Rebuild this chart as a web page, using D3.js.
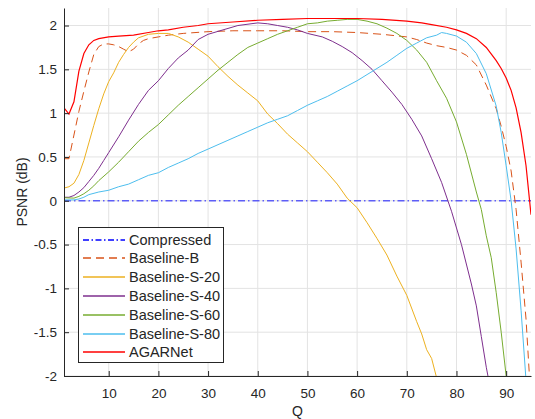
<!DOCTYPE html>
<html>
<head>
<meta charset="utf-8">
<script src="https://cdn.jsdelivr.net/npm/d3@7"></script>
<style>
  body { margin: 0; background: #fff; }
  text { font-family: "Liberation Sans", Arial, sans-serif; fill: #262626; }
</style>
</head>
<body>
<div id="chart"></div>
<script>
// data: [Q, PSNR gain (dB)]
const compressed = [[1, 0], [95, 0]];

const baselineB = [[1, 0.48], [2, 0.48], [3, 0.75], [4, 1.02], [5, 1.25], [6, 1.47], [7, 1.67], [8, 1.76],
  [9, 1.79], [10, 1.79], [11, 1.78], [12, 1.76], [13, 1.73], [14, 1.70], [15, 1.73], [16, 1.79], [17, 1.83],
  [18, 1.85], [20, 1.87], [22, 1.89], [25, 1.91], [30, 1.93], [35, 1.94], [40, 1.94], [45, 1.94], [50, 1.93],
  [55, 1.93], [60, 1.92], [65, 1.90], [70, 1.87], [72, 1.84], [74, 1.80], [76, 1.77], [78, 1.75], [80, 1.72],
  [82, 1.66], [84, 1.55], [86, 1.32], [88, 1.05], [89, 0.85], [90, 0.62], [91, 0.34], [92, -0.10], [93, -0.70],
  [94, -1.35], [95, -2.3]];

const baselineS20 = [[1, 0.145], [2, 0.16], [3, 0.20], [4, 0.30], [5, 0.46], [6, 0.66], [7, 0.86], [8, 1.05],
  [9, 1.22], [10, 1.36], [11, 1.46], [12, 1.58], [13, 1.67], [14, 1.75], [15, 1.81], [16, 1.86], [18, 1.90],
  [20, 1.91], [22, 1.91], [24, 1.87], [26, 1.81], [28, 1.73], [30, 1.65], [32, 1.53], [34, 1.42], [36, 1.32],
  [38, 1.23], [40, 1.14], [42, 0.99], [44, 0.88], [46, 0.76], [48, 0.66], [50, 0.56], [52, 0.44], [54, 0.32],
  [56, 0.19], [58, 0.03], [60, -0.08], [62, -0.25], [64, -0.43], [66, -0.62], [68, -0.86], [70, -1.08],
  [72, -1.38], [73, -1.52], [74, -1.70], [75, -1.80], [76, -2.02], [77, -2.2]];

const baselineS40 = [[1, 0.04], [2, 0.04], [3, 0.06], [4, 0.10], [5, 0.15], [6, 0.22], [7, 0.29], [8, 0.37],
  [9, 0.46], [10, 0.55], [12, 0.73], [14, 0.92], [16, 1.10], [18, 1.26], [20, 1.37], [22, 1.51], [24, 1.63],
  [26, 1.72], [28, 1.84], [30, 1.90], [33, 1.95], [36, 2.00], [40, 2.03], [42, 2.02], [44, 2.00], [46, 1.98],
  [48, 1.95], [50, 1.91], [53, 1.87], [55, 1.82], [57, 1.76], [59, 1.69], [61, 1.60], [63, 1.50], [65, 1.37],
  [67, 1.24], [69, 1.10], [71, 0.93], [73, 0.74], [75, 0.48], [77, 0.21], [79, -0.12], [81, -0.50], [83, -0.95],
  [84, -1.20], [85, -1.55], [86, -1.90], [87, -2.2]];

const baselineS60 = [[1, 0.035], [3, 0.03], [4, 0.05], [5, 0.08], [6, 0.12], [7, 0.17], [8, 0.23], [10, 0.33],
  [12, 0.44], [14, 0.56], [16, 0.68], [18, 0.78], [20, 0.87], [22, 0.98], [24, 1.09], [26, 1.19], [28, 1.29],
  [30, 1.39], [32, 1.49], [34, 1.58], [36, 1.67], [38, 1.75], [40, 1.80], [42, 1.85], [44, 1.90], [46, 1.94],
  [48, 1.98], [50, 2.02], [52, 2.03], [54, 2.05], [56, 2.06], [58, 2.07], [60, 2.07], [62, 2.05], [64, 2.02],
  [66, 1.97], [68, 1.91], [70, 1.83], [72, 1.72], [74, 1.58], [76, 1.37], [78, 1.17], [80, 0.90], [82, 0.53],
  [84, 0.10], [85, -0.10], [86, -0.40], [87, -0.65], [88, -1.05], [89, -1.50], [90, -2.0], [91, -2.5]];

const baselineS80 = [[1, 0.01], [3, 0.01], [4, 0.02], [5, 0.04], [6, 0.07], [8, 0.10], [10, 0.12], [12, 0.16],
  [14, 0.19], [16, 0.24], [18, 0.29], [20, 0.32], [22, 0.38], [24, 0.43], [26, 0.48], [28, 0.54], [30, 0.59],
  [32, 0.64], [34, 0.69], [36, 0.74], [38, 0.79], [40, 0.84], [42, 0.89], [44, 0.93], [46, 0.97], [48, 1.03],
  [50, 1.09], [52, 1.14], [54, 1.19], [56, 1.25], [58, 1.31], [60, 1.37], [62, 1.44], [64, 1.51], [66, 1.58],
  [68, 1.66], [70, 1.74], [72, 1.80], [74, 1.86], [76, 1.89], [77, 1.92], [78, 1.91], [80, 1.88], [82, 1.81],
  [84, 1.68], [86, 1.45], [88, 1.08], [89, 0.78], [90, 0.40], [91, 0.0], [92, -0.55], [93, -1.25], [94, -2.05],
  [95, -2.8]];

const agarnet = [[1, 1.06], [2, 0.99], [3, 1.13], [4, 1.48], [5, 1.68], [6, 1.78], [7, 1.83], [8, 1.85],
  [10, 1.87], [12, 1.88], [15, 1.89], [18, 1.92], [20, 1.94], [22, 1.95], [25, 1.98], [28, 2.00], [30, 2.02],
  [35, 2.04], [40, 2.06], [45, 2.07], [50, 2.08], [55, 2.08], [60, 2.08], [65, 2.07], [70, 2.05], [73, 2.03],
  [75, 2.01], [78, 1.98], [80, 1.95], [82, 1.91], [84, 1.85], [86, 1.75], [88, 1.60], [89, 1.51], [90, 1.40],
  [91, 1.26], [92, 1.06], [93, 0.78], [94, 0.40], [95, -0.16]];

const xTicks = [10, 20, 30, 40, 50, 60, 70, 80, 90];
const yTicks = [-2, -1.5, -1, -0.5, 0, 0.5, 1, 1.5, 2];

const series = [
  {name: "Compressed", data: compressed, color: "#0000ff", dash: "7,3,1.5,3", width: 1},
  {name: "Baseline-B", data: baselineB, color: "#D95319", dash: "8,5", width: 1},
  {name: "Baseline-S-20", data: baselineS20, color: "#EDB120", dash: null, width: 1},
  {name: "Baseline-S-40", data: baselineS40, color: "#7E2F8E", dash: null, width: 1},
  {name: "Baseline-S-60", data: baselineS60, color: "#77AC30", dash: null, width: 1},
  {name: "Baseline-S-80", data: baselineS80, color: "#4DBEEE", dash: null, width: 1},
  {name: "AGARNet", data: agarnet, color: "#ff0000", dash: null, width: 1.2}
];

const W = 535, H = 419;
const margin = {top: 8, left: 64, right: 4, bottom: 43};

const svg = d3.select("#chart").append("svg")
  .attr("width", W).attr("height", H)
  .style("background", "#fff");

const x = d3.scaleLinear().domain([1, 95]).range([margin.left, W - margin.right]);
const y = d3.scaleLinear().domain([-2, 2.2]).range([H - margin.bottom, margin.top]);

// grid
svg.append("g").selectAll("line").data(xTicks).join("line")
  .attr("x1", d => x(d)).attr("x2", d => x(d))
  .attr("y1", y(-2)).attr("y2", y(2.2))
  .attr("stroke", "#e3e3e3").attr("stroke-width", 1);
svg.append("g").selectAll("line").data(yTicks).join("line")
  .attr("x1", x(1)).attr("x2", x(95))
  .attr("y1", d => y(d)).attr("y2", d => y(d))
  .attr("stroke", "#e3e3e3").attr("stroke-width", 1);

svg.append("clipPath").attr("id", "clip")
  .append("rect")
  .attr("x", x(1)).attr("y", y(2.2))
  .attr("width", x(95) - x(1)).attr("height", y(-2) - y(2.2));

const line = d3.line().x(d => x(d[0])).y(d => y(d[1]));

const plot = svg.append("g").attr("clip-path", "url(#clip)");
series.forEach(s => {
  plot.append("path")
    .datum(s.data)
    .attr("d", line)
    .attr("fill", "none")
    .attr("stroke", s.color)
    .attr("stroke-width", s.name === "Compressed" ? 1.6 : s.width)
    .attr("stroke-opacity", s.name === "Compressed" ? 0.6 : 1)
    .attr("stroke-dasharray", s.dash);
});

// axes
const xAxis = svg.append("g")
  .attr("transform", `translate(0,${y(-2)})`)
  .call(d3.axisBottom(x).tickValues(xTicks).tickSizeInner(-5).tickSizeOuter(0).tickPadding(12));
const yAxis = svg.append("g")
  .attr("transform", `translate(${x(1)},0)`)
  .call(d3.axisLeft(y).tickValues(yTicks).tickSizeInner(-5).tickSizeOuter(0).tickPadding(7)
    .tickFormat(d => String(d)));
[xAxis, yAxis].forEach(a => {
  a.select(".domain").attr("stroke", "#262626");
  a.selectAll(".tick line").attr("stroke", "#262626");
  a.selectAll(".tick text").attr("font-size", 13.5).attr("font-family", "Liberation Sans, Arial, sans-serif")
    .attr("fill", "#262626");
});

svg.append("text")
  .attr("x", (x(1) + x(95)) / 2).attr("y", 416)
  .attr("text-anchor", "middle").attr("font-size", 14)
  .text("Q");
svg.append("text")
  .attr("transform", `translate(27,${(y(-2) + y(2.2)) / 2}) rotate(-90)`)
  .attr("text-anchor", "middle").attr("font-size", 14)
  .text("PSNR (dB)");

// legend
const lg = svg.append("g");
lg.append("rect")
  .attr("x", 78.5).attr("y", 227.5).attr("width", 145).attr("height", 135)
  .attr("fill", "#fff").attr("stroke", "#262626").attr("stroke-width", 1);
series.forEach((s, i) => {
  const ly = Math.round(239.5 + i * 18.8);
  lg.append("line")
    .attr("x1", 83).attr("x2", 125).attr("y1", ly).attr("y2", ly)
    .attr("stroke", s.color).attr("stroke-width", 1.3)
    .attr("stroke-dasharray", s.name === "Compressed" ? "6,2.5,1.5,2.5" : s.dash);
  lg.append("text")
    .attr("x", 129).attr("y", ly + 5)
    .attr("font-size", 14.5)
    .text(s.name);
});
</script>
</body>
</html>
